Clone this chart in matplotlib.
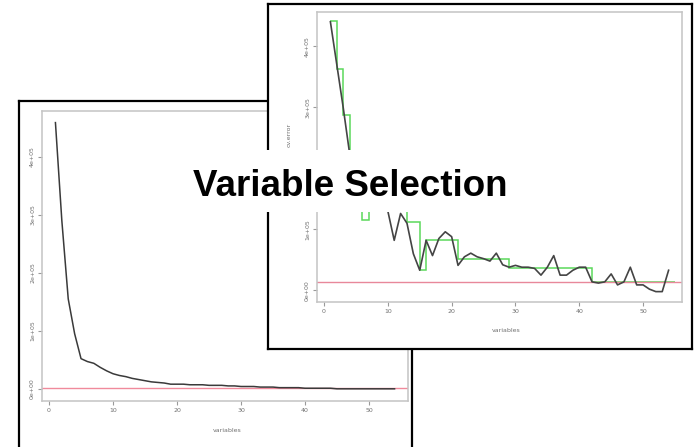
#!/usr/bin/env python3
# -*- coding: utf-8 -*-

import numpy as np
import matplotlib
matplotlib.use("Agg")
import matplotlib.pyplot as plt
from matplotlib.patches import Rectangle
from matplotlib.ticker import FuncFormatter

W, H = 694, 447

# ---- data: error curve vs number of variables (back panel) ----
back_vars = list(range(1, 55))
back_err = [4.59e5, 2.90e5, 1.55e5, 0.95e5, 0.52e5, 0.47e5, 0.44e5, 0.37e5, 0.31e5, 0.26e5,
            0.23e5, 0.21e5, 0.18e5, 0.16e5, 0.14e5, 0.12e5, 0.11e5, 0.10e5, 0.08e5, 0.08e5,
            0.08e5, 0.07e5, 0.07e5, 0.07e5, 0.06e5, 0.06e5, 0.06e5, 0.05e5, 0.05e5, 0.04e5,
            0.04e5, 0.04e5, 0.03e5, 0.03e5, 0.03e5, 0.02e5, 0.02e5, 0.02e5, 0.02e5, 0.01e5,
            0.01e5, 0.01e5, 0.01e5, 0.01e5, 0.00e5, 0.00e5, 0.00e5, 0.00e5, 0.00e5, 0.00e5,
            0.00e5, 0.00e5, 0.00e5, 0.00e5]
back_ref = 0.02e5

# ---- data: cross-validated error with step fit (front panel) ----
front_vars = list(range(1, 55))
front_err = [4.40e5, 3.70e5, 3.00e5, 2.25e5, 1.80e5, 1.45e5, 1.55e5, 1.40e5, 1.50e5, 1.30e5,
             0.82e5, 1.26e5, 1.10e5, 0.60e5, 0.33e5, 0.82e5, 0.57e5, 0.85e5, 0.96e5, 0.88e5,
             0.41e5, 0.55e5, 0.61e5, 0.55e5, 0.52e5, 0.48e5, 0.61e5, 0.42e5, 0.38e5, 0.41e5,
             0.38e5, 0.38e5, 0.36e5, 0.25e5, 0.38e5, 0.57e5, 0.25e5, 0.25e5, 0.33e5, 0.38e5,
             0.38e5, 0.14e5, 0.12e5, 0.14e5, 0.27e5, 0.09e5, 0.14e5, 0.38e5, 0.09e5, 0.09e5,
             0.02e5, -0.02e5, -0.02e5, 0.33e5]
front_step = [4.42e5, 3.63e5, 2.87e5, 1.60e5, 1.60e5, 1.15e5, 1.40e5, 1.40e5, 1.40e5, 1.40e5,
              1.40e5, 1.40e5, 1.12e5, 1.12e5, 0.33e5, 0.82e5, 0.82e5, 0.82e5, 0.82e5, 0.82e5,
              0.52e5, 0.52e5, 0.52e5, 0.52e5, 0.52e5, 0.52e5, 0.52e5, 0.52e5, 0.37e5, 0.37e5,
              0.37e5, 0.37e5, 0.37e5, 0.37e5, 0.37e5, 0.37e5, 0.37e5, 0.37e5, 0.37e5, 0.37e5,
              0.37e5, 0.14e5, 0.14e5, 0.14e5, 0.14e5, 0.14e5, 0.14e5, 0.14e5, 0.14e5, 0.14e5,
              0.14e5, 0.14e5, 0.14e5, 0.14e5]
front_ref = 0.14e5

x_ticks = [0, 10, 20, 30, 40, 50]
y_ticks = [0, 1e5, 2e5, 3e5, 4e5]
title = "Variable Selection"


def px_axes(fig, x0, y0, x1, y1, **kw):
    """Add axes from pixel corners (top-left origin)."""
    return fig.add_axes([x0 / W, 1 - y1 / H, (x1 - x0) / W, (y1 - y0) / H], **kw)


def frame(fig, x0, y0, x1, y1, z):
    ax = px_axes(fig, x0, y0, x1, y1, zorder=z)
    ax.set_facecolor("white")
    ax.set_xticks([])
    ax.set_yticks([])
    for s in ax.spines.values():
        s.set_color("black")
        s.set_linewidth(1.6)
    return ax


def sci_label(skip=()):
    # R-style "1e+05" labels; values in skip get no label
    def fmt(v, pos):
        return "" if v in skip else f"{v:.0e}"
    return FuncFormatter(fmt)


def style_plot(ax, ylim, skip=()):
    ax.set_facecolor("white")
    for s in ax.spines.values():
        s.set_color("#c4c4c4")
        s.set_linewidth(1.1)
    ax.set_xlim(-1.1, 56.1)
    ax.set_ylim(*ylim)
    ax.set_xticks(x_ticks)
    ax.set_yticks(y_ticks)
    ax.yaxis.set_major_formatter(sci_label(skip))
    ax.tick_params(length=3, width=0.8, color="#9a9a9a", labelsize=4.5,
                   labelcolor="#707070", pad=2)
    for lab in ax.get_yticklabels():
        lab.set_rotation(90)
        lab.set_va("center")


fig = plt.figure(figsize=(W / 100, H / 100), dpi=100)

# back panel
frame(fig, 19, 101, 412, 470, 1)
ax_b = px_axes(fig, 42, 111, 408, 401, zorder=2)
style_plot(ax_b, (-0.21e5, 4.79e5))
ax_b.axhline(back_ref, color="#f08a9c", lw=1.0)
ax_b.plot(back_vars, back_err, color="#3a3a3a", lw=1.1)
fig.text(227 / W, 1 - 430 / H, "variables", fontsize=4.5, color="#707070",
         ha="center", va="center", zorder=2.5)

# front panel (the 2e+05 label sits under the title band)
frame(fig, 268, 4, 692, 349, 3)
ax_f = px_axes(fig, 317, 12, 682, 302, zorder=4)
style_plot(ax_f, (-0.19e5, 4.56e5), skip=(2e5,))
ax_f.axhline(front_ref, color="#e8889a", lw=1.0)
ax_f.plot(front_vars, front_err, color="#444444", lw=1.2)
ax_f.stairs(front_step, np.arange(1, len(front_step) + 2), baseline=None,
            color="#3fd23f", lw=1.1, alpha=0.85)
fig.text(506 / W, 1 - 331 / H, "variables", fontsize=4.5, color="#707070",
         ha="center", va="center", zorder=5)
fig.text(289 / W, 1 - 135 / H, "cv.error", fontsize=4.5, color="#707070",
         rotation=90, ha="center", va="center", zorder=5)

# title on a white band across both panels
fig.add_artist(Rectangle((170 / W, 1 - 212 / H), 363 / W, 62 / H,
                         transform=fig.transFigure, facecolor="white",
                         edgecolor="none", zorder=9))
fig.text(350 / W, 1 - 196 / H, title, fontsize=26.5, fontweight="bold",
         family=["Liberation Sans", "DejaVu Sans"], ha="center", va="baseline",
         zorder=10)

fig.savefig("out.png", dpi=100)
